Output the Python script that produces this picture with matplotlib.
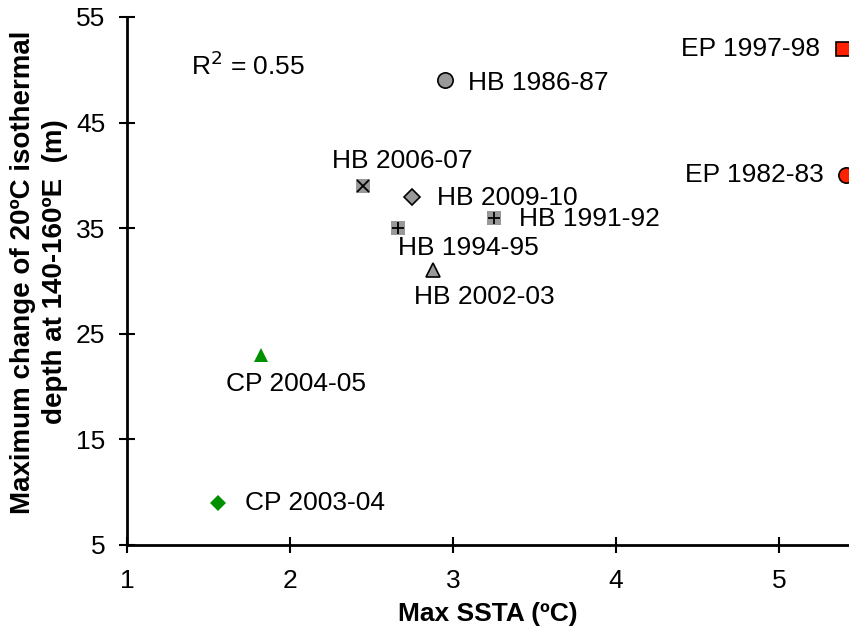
import matplotlib.pyplot as plt

plt.rcParams['font.family'] = ['Liberation Sans', 'DejaVu Sans']

# Max SSTA (degC) vs max change of 20C isothermal depth (m)
events = ["EP 1997-98", "EP 1982-83", "HB 1986-87", "HB 2006-07", "HB 2009-10",
          "HB 1991-92", "HB 1994-95", "HB 2002-03", "CP 2004-05", "CP 2003-04"]
ssta = [5.39, 5.41, 2.95, 2.45, 2.75, 3.25, 2.66, 2.88, 1.82, 1.56]
depth = [52, 40, 49, 39, 38, 36, 35, 31, 23, 9]

x_ticks = [1, 2, 3, 4, 5]
y_ticks = [5, 15, 25, 35, 45, 55]

grey = "#999999"
red = "#FF2200"
green = "#009000"

# marker, face, edge, size, overlay marker, label offset (pt), ha
styles = {
    "EP 1997-98": ("s", red, "k", 10, None, (-16, 0), "right"),
    "EP 1982-83": ("o", red, "k", 11, None, (-16, 0), "right"),
    "HB 1986-87": ("o", grey, "k", 11, None, (17, -2), "left"),
    "HB 2006-07": ("s", grey, "none", 10, "x", (28, 18), "center"),
    "HB 2009-10": ("D", grey, "k", 8, None, (18, -1), "left"),
    "HB 1991-92": ("s", grey, "none", 10, "+", (18, -1), "left"),
    "HB 1994-95": ("s", grey, "none", 10, "+", (0, -14), "left"),
    "HB 2002-03": ("^", grey, "k", 10, None, (-14, -19), "left"),
    "CP 2004-05": ("^", green, "none", 10, None, (-25, -21), "left"),
    "CP 2003-04": ("D", green, "none", 8, None, (19, 0), "left"),
}

fig = plt.figure(figsize=(8.49, 6.34), dpi=100)
ax = fig.add_axes([127 / 849, 89 / 634, 722 / 849, 528 / 634])

fs = 19
for name, x, y in zip(events, ssta, depth):
    m, fc, ec, ms, over, off, ha = styles[name]
    ax.plot(x, y, marker=m, color=fc, markerfacecolor=fc, markeredgecolor=ec,
            markeredgewidth=1.2, markersize=ms, linestyle="none", clip_on=False, zorder=3)
    if over:
        ax.plot(x, y, marker=over, color="k", markersize=ms * 0.85,
                markeredgewidth=1.3, linestyle="none", clip_on=False, zorder=4)
    ax.annotate(name, (x, y), xytext=off, textcoords="offset points",
                ha=ha, va="center", fontsize=fs)

ax.text(1.39, 50.4, "R$^2$ = 0.55", fontsize=fs, va="center")

ax.set_xlim(1, 1 + 722 / 163)
ax.set_ylim(5, 55)
ax.set_xticks(x_ticks)
ax.set_yticks(y_ticks)
ax.tick_params(direction="inout", length=11, width=1.5, labelsize=fs)
ax.tick_params(axis="x", pad=12)
ax.tick_params(axis="y", pad=10)
for s in ["top", "right"]:
    ax.spines[s].set_visible(False)
for s in ["left", "bottom"]:
    ax.spines[s].set_linewidth(2)

ax.set_xlabel("Max SSTA (ºC)", fontsize=fs, fontweight="bold", labelpad=6)
ax.set_ylabel("Maximum change of 20ºC isothermal\ndepth at 140-160ºE  (m)",
              fontsize=20, fontweight="bold", linespacing=1.3)
ax.yaxis.set_label_coords(-0.0817, 0.517)

fig.savefig("out.png", dpi=100)
